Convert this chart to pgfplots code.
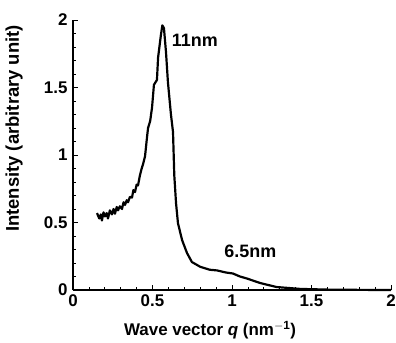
\documentclass[border=0pt]{standalone}
\usepackage{fontspec}
\setmainfont{Liberation Sans}
\usepackage{pgfplots}
\pgfplotsset{compat=1.18}
\begin{document}
\begin{tikzpicture}
\begin{axis}[
  scale only axis,
  width=318bp, height=270bp,
  xmin=0, xmax=2, ymin=0, ymax=2,
  axis x line*=bottom, axis y line*=left,
  axis line style={line width=1.2pt},
  xtick={0,0.5,1,1.5,2}, ytick={0,0.5,1,1.5,2},
  xticklabels={0,0.5,1,1.5,2}, yticklabels={0,0.5,1,1.5,2},
  minor x tick num=4, minor y tick num=4,
  tick align=inside,
  major tick length=5bp, minor tick length=3bp,
  tick style={line width=0.8pt, black},
  ticklabel style={font=\fontsize{17}{20}\selectfont\bfseries},
  /pgf/number format/assume math mode=true,
  xticklabel style={yshift=-1bp},
  yticklabel style={xshift=-2bp},
  xlabel={Wave vector \textit{q} (nm$^{\mathbf{-1}}$)},
  ylabel={Intensity (arbitrary unit)},
  xlabel style={font=\fontsize{17}{20}\selectfont\bfseries, at={(axis description cs:0.431,-0.148)}, anchor=center},
  ylabel style={font=\fontsize{18.5}{20}\selectfont\bfseries, at={(axis description cs:-0.185,0.598)}, anchor=center, rotate=0},
  clip=false,
]
\addplot[black, line width=2.2pt, line join=round] coordinates {
(0.151,0.570) (0.165,0.530) (0.175,0.560) (0.182,0.515) (0.192,0.575)
(0.201,0.545) (0.212,0.570) (0.220,0.530) (0.232,0.590) (0.245,0.560)
(0.255,0.600) (0.264,0.565) (0.275,0.615) (0.283,0.590) (0.295,0.620)
(0.308,0.600) (0.318,0.650) (0.327,0.630) (0.338,0.665) (0.346,0.650)
(0.358,0.690) (0.371,0.685) (0.380,0.740) (0.390,0.725) (0.400,0.780)
(0.409,0.775) (0.421,0.850) (0.432,0.900) (0.440,0.930)
(0.453,0.990) (0.465,1.126) (0.472,1.200) (0.485,1.250) (0.497,1.350) (0.509,1.520)
(0.528,1.556) (0.535,1.720) (0.553,1.890) (0.562,1.960) (0.572,1.940)
(0.585,1.760) (0.597,1.540) (0.616,1.300) (0.629,1.170) (0.632,1.050)
(0.637,0.850) (0.648,0.644) (0.660,0.496) (0.686,0.370) (0.717,0.274)
(0.748,0.207) (0.800,0.172) (0.860,0.150) (0.906,0.145) (0.960,0.130)
(1.006,0.122) (1.050,0.100) (1.094,0.085) (1.176,0.052) (1.280,0.022)
(1.430,0.008) (1.600,0.003) (1.800,0.001) (2.000,0.000)
};
\node[anchor=west, font=\fontsize{18}{20}\selectfont\bfseries] at (axis cs:0.60,1.85) {11nm};
\node[anchor=west, font=\fontsize{18}{20}\selectfont\bfseries] at (axis cs:0.93,0.29) {6.5nm};
\end{axis}
\pgfresetboundingbox
\path (-73bp,-53bp) rectangle (323bp,290bp);
\end{tikzpicture}
\end{document}
